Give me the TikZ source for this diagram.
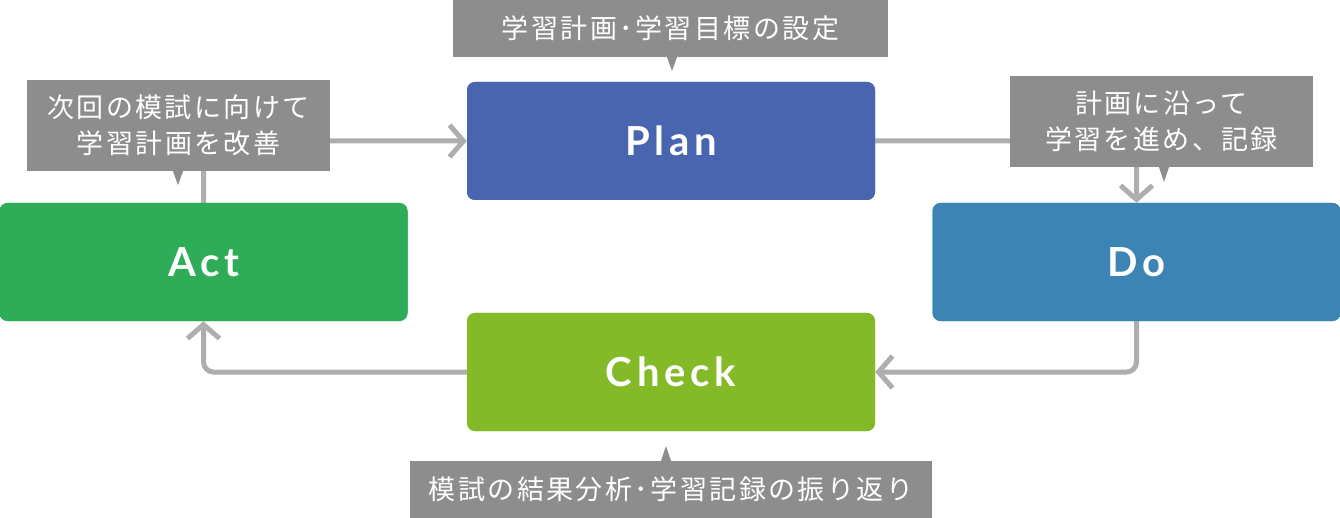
\documentclass[tikz,border=0pt]{standalone}
\usepackage{fontspec}
\usetikzlibrary{arrows.meta,calc}
\newfontfamily\jpfont[LetterSpace=9]{Noto Sans CJK JP}
\newfontfamily\boxfont[LetterSpace=12]{Lato}
\definecolor{planc}{HTML}{4A65AF}
\definecolor{doc}{HTML}{3C84B3}
\definecolor{actc}{HTML}{2FAC58}
\definecolor{checkc}{HTML}{84B928}
\definecolor{calloutc}{HTML}{8D8D8D}
\definecolor{connc}{HTML}{AEAEAE}
\tikzset{
  stagebox/.style={fill=#1, rounded corners=8pt, minimum width=408pt, minimum height=118pt,
    inner sep=0pt, text=white, font=\boxfont\bfseries\fontsize{40}{40}\selectfont},
  callout/.style={fill=calloutc, inner sep=0pt, text=white, align=center,
    font=\jpfont\fontsize{27}{36}\selectfont},
  conn/.style={draw=connc, line width=5pt, rounded corners=10pt,
    -{Straight Barb[length=14pt,width=32pt,line width=5pt]}},
  pointer/.style={fill=calloutc}
}
\begin{document}
\begin{tikzpicture}[x=1pt,y=-1pt]
\useasboundingbox (0,0) rectangle (1340,518);
% stage boxes (positioned by centre)
\node[stagebox=planc]  (plan)  at (671,141)    {Plan};
\node[stagebox=doc]    (do)    at (1136.5,262) {Do};
\node[stagebox=actc]   (act)   at (203.5,262)  {Act};
\node[stagebox=checkc] (check) at (671,372)    {Check};
% connectors
\draw[conn] (plan.east) -| (do.north);
\draw[conn] (do.south) |- (check.east);
\draw[conn] (check.west) -| (act.south);
\draw[conn] (act.north) |- (plan.west);
% redraw boxes on top of line ends
\node[stagebox=planc]  at (plan)  {Plan};
\node[stagebox=doc]    at (do)    {Do};
\node[stagebox=actc]   at (act)   {Act};
\node[stagebox=checkc] at (check) {Check};
% callouts
\node[callout, minimum width=435pt, minimum height=57pt] (ctop) at (670.5,28.5)
  {学習計画･学習目標の設定};
\node[callout, minimum width=303pt, minimum height=91pt] (cact) at (178.5,125.5)
  {次回の模試に向けて\\学習計画を改善};
\node[callout, minimum width=303pt, minimum height=91pt] (cdo) at (1161.5,121.5)
  {計画に沿って\\学習を進め、記録};
\node[callout, minimum width=522pt, minimum height=57pt] (cbot) at (671,489.5)
  {模試の結果分析･学習記録の振り返り};
% pointers
\coordinate (ptop) at (672,71);
\coordinate (pact) at (178,185);
\coordinate (pdo)  at (1164,182);
\coordinate (pbot) at (666,446);
\fill[pointer] (ptop) -- (ctop.south -| {$(ptop)+(-5,0)$}) -- (ctop.south -| {$(ptop)+(5,0)$}) -- cycle;
\fill[pointer] (pact) -- (cact.south -| {$(pact)+(-5,0)$}) -- (cact.south -| {$(pact)+(5,0)$}) -- cycle;
\fill[pointer] (pdo) -- (cdo.south -| {$(pdo)+(-5,0)$}) -- (cdo.south -| {$(pdo)+(5,0)$}) -- cycle;
\fill[pointer] (pbot) -- (cbot.north -| {$(pbot)+(-5,0)$}) -- (cbot.north -| {$(pbot)+(5,0)$}) -- cycle;
\end{tikzpicture}
\end{document}
